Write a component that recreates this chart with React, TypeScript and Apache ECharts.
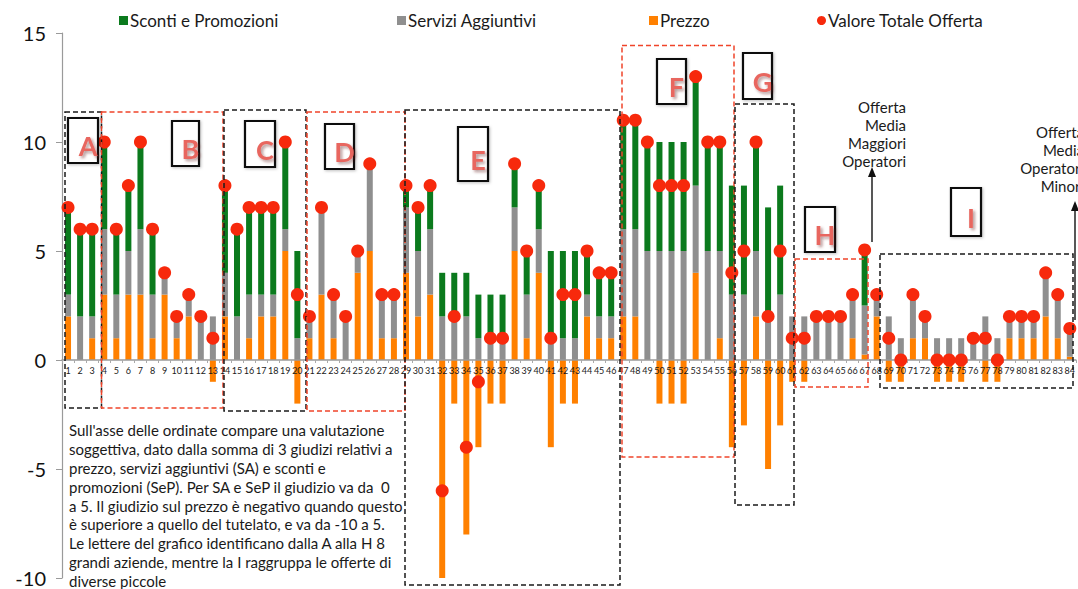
import React, { useEffect, useRef } from "react";
import * as echarts from "echarts";

const categories = [
  "1","2","3","4","5","6","7","8","9","10","11","12","13","14","15","16","17","18","19","20",
  "21","22","23","24","25","26","27","28","29","30","31","32","33","34","35","36","37","38","39","40",
  "41","42","43","44","45","46","47","48","49","50","51","52","53","54","55","56","57","58","59","60",
  "61","62","63","64","65","66","67","68","69","70","71","72","73","74","75","76","77","78","79","80",
  "81","82","83","84",
];

// Prezzo
const price = [
  2, 0, 1, 3, 1, 3, 3, 1, 3, 1, 2, 0, -1, 2, 0, 1, 2, 2, 5, -2,
  1, 3, 1, 0, 4, 5, 1, 1, 4, 2, 3, -10, -2, -8, -4, -2, -2, 5, 1, 4,
  -4, -2, -2, 2, 1, 1, 2, 2, 0, -2, -2, -2, 4, 0, 1, -4, -3, 2, -5, -3,
  -1, -1, 0, 0, 0, 1, 0.25, 2, -1, -1, 1, 1, -1, -1, -1, 0, -1, -1, 1, 1,
  1, 2, 1, 0.15,
];

// Servizi Aggiuntivi
const services = [
  1, 2, 1, 3, 2, 2, 3, 2, 1, 1, 1, 2, 2, 2, 2, 2, 1, 1, 1, 1,
  1, 4, 2, 2, 1, 4, 2, 2, 3, 3, 3, 2, 2, 2, 1, 1, 1, 2, 2, 2,
  1, 1, 1, 1, 1, 1, 4, 4, 5, 5, 5, 5, 4, 5, 4, 3, 3, 3, 2, 3,
  2, 2, 2, 2, 2, 2, 2.25, 1, 2, 1, 2, 1, 1, 1, 1, 1, 2, 1, 1, 1,
  1, 2, 2, 1.3,
];

// Sconti e Promozioni
const discounts = [
  4, 4, 4, 4, 3, 3, 4, 3, 0, 0, 0, 0, 0, 4, 4, 4, 4, 4, 4, 4,
  0, 0, 0, 0, 0, 0, 0, 0, 1, 2, 2, 2, 2, 2, 2, 2, 2, 2, 2, 2,
  4, 4, 4, 2, 2, 2, 5, 5, 5, 5, 5, 5, 5, 5, 5, 5, 5, 5, 5, 5,
  0, 0, 0, 0, 0, 0, 2.55, 0, 0, 0, 0, 0, 0, 0, 0, 0, 0, 0, 0, 0,
  0, 0, 0, 0,
];

// Valore Totale Offerta
const totals = [
  7, 6, 6, 10, 6, 8, 10, 6, 4, 2, 3, 2, 1, 8, 6, 7, 7, 7, 10, 3,
  2, 7, 3, 2, 5, 9, 3, 3, 8, 7, 8, -6, 2, -4, -1, 1, 1, 9, 5, 8,
  1, 3, 3, 5, 4, 4, 11, 11, 10, 8, 8, 8, 13, 10, 10, 4, 5, 10, 2, 5,
  1, 1, 2, 2, 2, 3, 5.05, 3, 1, 0, 3, 2, 0, 0, 0, 1, 1, 0, 2, 2,
  2, 4, 3, 1.45,
];

const groupLetters = ["A", "B", "C", "D", "E", "F", "G", "H", "I"];

const noteText =
  "Sull'asse delle ordinate compare una valutazione\n" +
  "soggettiva, dato dalla somma di 3 giudizi relativi a\n" +
  "prezzo, servizi aggiuntivi (SA) e sconti e\n" +
  "promozioni (SeP). Per SA e SeP il giudizio va da  0\n" +
  "a 5. Il giudizio sul prezzo è negativo quando questo\n" +
  "è superiore a quello del tutelato, e va da -10 a 5.\n" +
  "Le lettere del grafico identificano dalla A alla H 8\n" +
  "grandi aziende, mentre la I raggruppa le offerte di\n" +
  "diverse piccole";

const FONT = "Lato, 'Open Sans', sans-serif";
const BLACK_DASH = "#1a1a1a";
const RED_DASH = "#f0442a";

function dashedBox(x1: number, y1: number, x2: number, y2: number, color: string) {
  return {
    type: "rect",
    silent: true,
    z: 20,
    shape: { x: x1, y: y1, width: x2 - x1, height: y2 - y1 },
    style: { fill: "none", stroke: color, lineWidth: 1.5, lineDash: [5, 3] },
  };
}

function letterBox(letter: string, x1: number, y1: number, x2: number, y2: number) {
  const cx = (x1 + x2) / 2 + 5;
  const cy = (y1 + y2) / 2 + 5;
  return [
    {
      type: "rect",
      silent: true,
      z: 21,
      shape: { x: x1, y: y1, width: x2 - x1, height: y2 - y1 },
      style: {
        fill: "#ffffff",
        stroke: "#111111",
        lineWidth: 2.2,
        shadowBlur: 3,
        shadowColor: "rgba(0,0,0,0.25)",
        shadowOffsetX: 1,
        shadowOffsetY: 1,
      },
    },
    {
      type: "text",
      silent: true,
      z: 22,
      x: cx,
      y: cy,
      style: {
        text: letter,
        font: `bold 27px ${FONT}`,
        fill: "#e8665f",
        align: "center",
        verticalAlign: "middle",
        textAlign: "center",
        textVerticalAlign: "middle",
        textShadowColor: "rgba(90,20,20,0.45)",
        textShadowBlur: 3,
        textShadowOffsetX: 2,
        textShadowOffsetY: 2,
      },
    },
  ];
}

function arrow(x: number, yBottom: number, yTip: number) {
  return [
    {
      type: "line",
      silent: true,
      z: 20,
      shape: { x1: x, y1: yBottom, x2: x, y2: yTip + 8 },
      style: { stroke: "#111", lineWidth: 1.4 },
    },
    {
      type: "polygon",
      silent: true,
      z: 20,
      shape: { points: [[x - 4, yTip + 10], [x + 4, yTip + 10], [x, yTip]] },
      style: { fill: "#111" },
    },
  ];
}

function multiText(text: string, x: number, y: number, align: string, size: number, lh: number) {
  return {
    type: "text",
    silent: true,
    z: 22,
    x,
    y,
    style: {
      text,
      font: `${size}px ${FONT}`,
      fill: "#1a1a1a",
      align,
      textAlign: align,
      verticalAlign: "top",
      textVerticalAlign: "top",
      lineHeight: lh,
    },
  };
}

function legendItem(name: string, left: number, icon: string) {
  return {
    data: [{ name, icon }],
    left,
    top: 12,
    padding: 0,
    itemWidth: 9,
    itemHeight: 9,
    itemGap: 0,
    selectedMode: false,
    textStyle: { fontSize: 17, color: "#1a1a1a", fontFamily: FONT, padding: [0, 0, 0, -3] },
  };
}

export default function App() {
  const ref = useRef<HTMLDivElement>(null);

  useEffect(() => {
    if (!ref.current) return;
    const chart = echarts.init(ref.current, undefined, { renderer: "svg" });

    const graphic: any[] = [
      dashedBox(65, 112, 101.5, 408, BLACK_DASH),
      dashedBox(101.5, 112, 223, 408, RED_DASH),
      dashedBox(224, 110, 306, 411, BLACK_DASH),
      dashedBox(307, 112, 405, 411, RED_DASH),
      dashedBox(405, 110, 620, 585, BLACK_DASH),
      dashedBox(622, 45.5, 734, 457, RED_DASH),
      dashedBox(735, 104, 794, 505, BLACK_DASH),
      dashedBox(795, 259, 868, 387, RED_DASH),
      dashedBox(880, 254, 1073, 388, BLACK_DASH),
      ...letterBox(groupLetters[0], 68, 118, 98, 163),
      ...letterBox(groupLetters[1], 172, 121, 199, 166),
      ...letterBox(groupLetters[2], 245, 121, 275, 167),
      ...letterBox(groupLetters[3], 325, 124, 354, 169),
      ...letterBox(groupLetters[4], 458, 127, 488, 181),
      ...letterBox(groupLetters[5], 657, 59, 686, 104),
      ...letterBox(groupLetters[6], 743, 53, 772, 99),
      ...letterBox(groupLetters[7], 805, 207, 835, 252),
      ...letterBox(groupLetters[8], 951, 188, 981, 236),
      ...arrow(872, 242, 167),
      ...arrow(1075, 320, 201),
      multiText("Offerta\nMedia\nMaggiori\nOperatori", 906, 98, "right", 15, 18),
      multiText("Offerta\nMedia\nOperatori\nMinori", 1084, 122.5, "right", 15, 18),
      multiText(noteText, 69, 421, "left", 15, 18.8),
    ];

    chart.setOption({
      animation: false,
      textStyle: { fontFamily: FONT },
      legend: [
        legendItem("Sconti e Promozioni", 119, "rect"),
        legendItem("Servizi Aggiuntivi", 397, "rect"),
        legendItem("Prezzo", 649, "rect"),
        legendItem("Valore Totale Offerta", 817, "circle"),
      ],
      grid: { left: 62, top: 33, width: 1020, height: 545, containLabel: false },
      xAxis: {
        type: "category",
        data: categories,
        offset: -218,
        z: 3,
        axisLine: { onZero: false, lineStyle: { color: "#9a9a9a", width: 1.5 } },
        axisTick: { show: true, length: 3, lineStyle: { color: "#aaaaaa" } },
        axisLabel: { interval: 0, fontSize: 9, color: "#1a1a1a", margin: 6, fontFamily: FONT },
        splitLine: { show: false },
      },
      yAxis: {
        type: "value",
        min: -10,
        max: 15,
        interval: 5,
        axisLine: { show: true, lineStyle: { color: "#9a9a9a", width: 1.2 } },
        axisTick: { show: true, length: 6, lineStyle: { color: "#9a9a9a" } },
        axisLabel: { fontSize: 20, color: "#111", margin: 16, fontFamily: FONT },
        splitLine: { show: false },
      },
      series: [
        {
          name: "Prezzo",
          type: "bar",
          stack: "voto",
          data: price,
          barWidth: 6,
          itemStyle: { color: "#ff8000" },
        },
        {
          name: "Servizi Aggiuntivi",
          type: "bar",
          stack: "voto",
          data: services,
          barWidth: 6,
          itemStyle: { color: "#8f8f8f" },
        },
        {
          name: "Sconti e Promozioni",
          type: "bar",
          stack: "voto",
          data: discounts,
          barWidth: 6,
          itemStyle: { color: "#0b7a1d" },
        },
        {
          name: "Valore Totale Offerta",
          type: "scatter",
          data: totals,
          symbolSize: 13,
          z: 5,
          itemStyle: { color: "#f7290c", opacity: 1 },
        },
      ],
      graphic,
    });

    return () => chart.dispose();
  }, []);

  return (
    <div
      ref={ref}
      style={{ position: "fixed", left: 0, top: 0, width: 1078, height: 589, background: "#fff" }}
    />
  );
}
